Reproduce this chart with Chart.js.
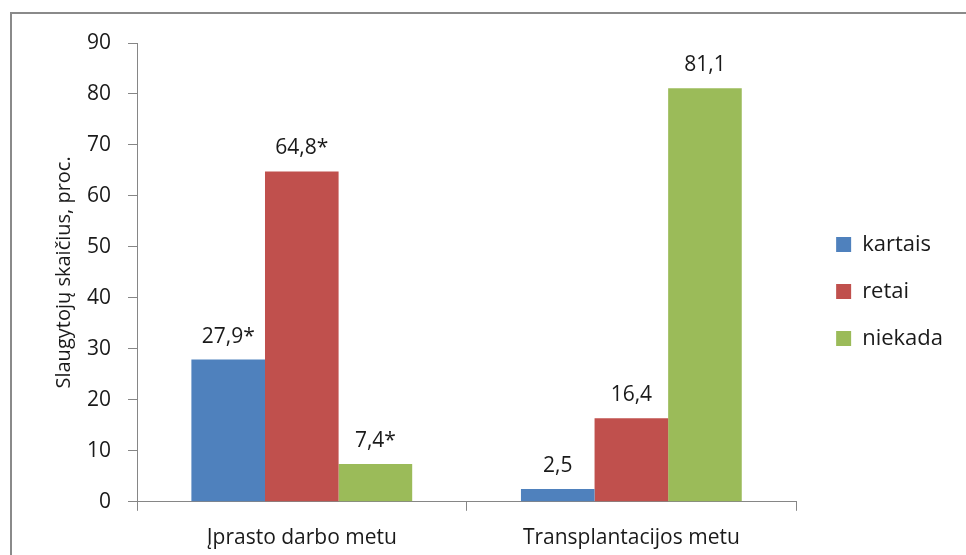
<!DOCTYPE html>
<html>
<head>
<meta charset="utf-8">
<script src="https://cdn.jsdelivr.net/npm/chart.js@4"></script>
<style>
  html, body { margin: 0; padding: 0; background: #fff; }
  #wrap { position: relative; width: 966px; height: 555px; overflow: hidden; }
  #frame { position: absolute; left: 10px; top: 12px; width: 1000px; height: 600px;
           border: 2px solid #8a8a8a; box-sizing: border-box; pointer-events: none; }
  canvas { position: absolute; left: 0; top: 0; }
</style>
</head>
<body>
<div id="wrap">
  <canvas id="chart" width="966" height="555"></canvas>
  <div id="frame"></div>
</div>
<script>
const categories = ['Įprasto darbo metu', 'Transplantacijos metu'];
const kartais = [27.9, 2.5];
const retai = [64.8, 16.4];
const niekada = [7.4, 81.1];
// Reikšmingi skirtumai pažymėti žvaigždute
const significant = [true, false];
const yTicks = [0, 10, 20, 30, 40, 50, 60, 70, 80, 90];

const FONT = '"Open Sans", "Noto Sans", sans-serif';
const AXIS = '#868686';
const TEXT = '#1a1a1a';

// skaičiai virš stulpelių
const valueLabels = {
  id: 'valueLabels',
  afterDatasetsDraw(chart) {
    const ctx = chart.ctx;
    ctx.save();
    ctx.font = '21px ' + FONT;
    ctx.fillStyle = TEXT;
    ctx.textAlign = 'center';
    ctx.textBaseline = 'alphabetic';
    chart.data.datasets.forEach((ds, di) => {
      const meta = chart.getDatasetMeta(di);
      meta.data.forEach((bar, i) => {
        const txt = ds.data[i].toFixed(1).replace('.', ',') + (significant[i] ? '*' : '');
        ctx.fillText(txt, bar.x, bar.y - 17);
      });
    });
    ctx.restore();
  }
};

// legendą šiek tiek atitraukiam nuo grafiko
const legendNudge = {
  id: 'legendNudge',
  afterLayout(chart) {
    const lg = chart.legend;
    lg.left += 15;
    lg.right += 15;
    lg.top -= 13;
    lg.bottom -= 13;
  }
};

new Chart(document.getElementById('chart'), {
  type: 'bar',
  data: {
    labels: categories,
    datasets: [
      { label: 'kartais', data: kartais, backgroundColor: '#4F81BD' },
      { label: 'retai', data: retai, backgroundColor: '#C0504D' },
      { label: 'niekada', data: niekada, backgroundColor: '#9BBB59' }
    ]
  },
  options: {
    responsive: false,
    animation: false,
    categoryPercentage: 0.67,
    barPercentage: 1,
    layout: { padding: { left: 52, right: 28, top: 43, bottom: -11 } },
    plugins: {
      tooltip: { enabled: false },
      legend: {
        position: 'right',
        labels: {
          boxWidth: 15,
          boxHeight: 15,
          padding: 25,
          color: TEXT,
          font: { family: FONT, size: 22 }
        }
      }
    },
    scales: {
      x: {
        grid: { display: true, offset: true, drawOnChartArea: false, drawTicks: true,
                tickLength: 9, color: AXIS },
        border: { color: AXIS, width: 1 },
        ticks: { color: TEXT, padding: 15, font: { family: FONT, size: 21 } }
      },
      y: {
        min: 0,
        max: 90,
        afterBuildTicks(axis) { axis.ticks = yTicks.map(v => ({ value: v })); },
        grid: { display: true, drawOnChartArea: false, drawTicks: true, tickLength: 9, color: AXIS },
        border: { color: AXIS, width: 1 },
        ticks: { color: TEXT, padding: 17, font: { family: FONT, size: 21 } },
        title: {
          display: true,
          text: 'Slaugytojų skaičius, proc.',
          color: TEXT,
          padding: { top: 0, bottom: -6 },
          font: { family: FONT, size: 20 }
        }
      }
    }
  },
  plugins: [valueLabels, legendNudge]
});
</script>
</body>
</html>
